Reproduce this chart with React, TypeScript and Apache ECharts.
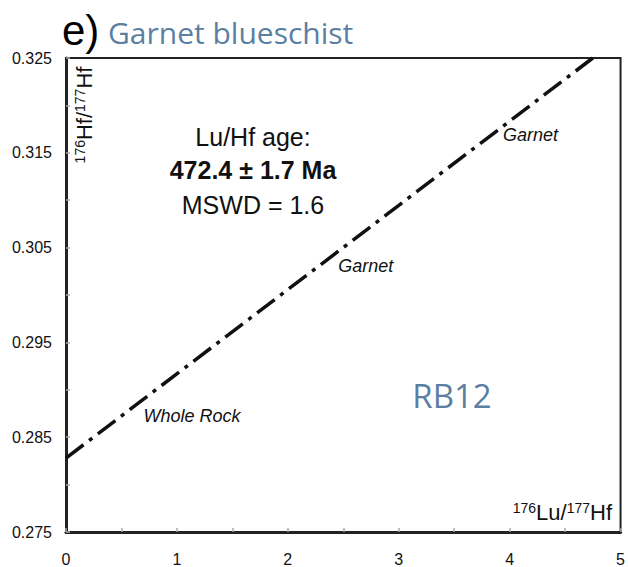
import React, { useEffect, useRef } from "react";
import * as echarts from "echarts";

const xTicks = [0, 1, 2, 3, 4, 5];
const yTickLabels = ["0.275", "0.285", "0.295", "0.305", "0.315", "0.325"];
const isochron = [
  [0, 0.2828],
  [4.75, 0.325],
];
const sampleNames = ["Whole Rock", "Garnet", "Garnet"];
const sampleLu = [0.65, 2.405, 3.89];
const sampleHf = [0.28858, 0.30417, 0.31737];
const labelOffsets = [
  [0, 13],
  [0, 11],
  [0, 5],
];
const ageLines = ["Lu/Hf age:", "472.4 ± 1.7 Ma", "MSWD = 1.6"];
const panelLetter = "e)";
const panelTitle = "Garnet blueschist";
const sampleId = "RB12";

const BLUE = "#5b7fa2";
const SANS = "'Liberation Sans', Arial, sans-serif";
const MYRIAD = "'Open Sans', 'Noto Sans', sans-serif";

export default function App() {
  const ref = useRef<HTMLDivElement>(null);
  useEffect(() => {
    document.body.style.margin = "0";
    if (!ref.current) return;
    const chart = echarts.init(ref.current, null, { renderer: "svg" });
    const option = {
      animation: false,
      backgroundColor: "#fff",
      grid: {
        left: 66,
        right: 7,
        top: 58,
        bottom: 34,
        show: true,
        borderColor: "#222",
        borderWidth: 2,
        backgroundColor: "transparent",
      },
      xAxis: {
        type: "value",
        min: xTicks[0],
        max: xTicks[xTicks.length - 1],
        interval: 1,
        axisLine: { show: true, onZero: false, lineStyle: { color: "#222", width: 3 } },
        axisTick: { show: true, inside: true, length: 4, lineStyle: { color: "#aaa", width: 1.5 } },
        minorTick: { show: true, splitNumber: 2, length: 4, lineStyle: { color: "#aaa", width: 1.5 } },
        splitLine: { show: false },
        axisLabel: {
          margin: 19,
          fontSize: 16,
          color: "#111",
          fontFamily: SANS,
          formatter: (v: number) => String(Math.round(v)),
        },
      },
      yAxis: {
        type: "value",
        min: 0.275,
        max: 0.325,
        interval: 0.01,
        axisLine: { show: true, onZero: false, lineStyle: { color: "#222", width: 3 } },
        axisTick: { show: true, inside: true, length: 4, lineStyle: { color: "#aaa", width: 1.5 } },
        minorTick: { show: true, splitNumber: 2, length: 4, lineStyle: { color: "#aaa", width: 1.5 } },
        splitLine: { show: false },
        axisLabel: {
          margin: 14,
          fontSize: 16,
          color: "#111",
          fontFamily: SANS,
          formatter: (v: number) => {
            const s = v.toFixed(3);
            return yTickLabels.includes(s) ? s : "";
          },
        },
      },
      series: [
        {
          type: "line",
          data: isochron,
          symbol: "none",
          clip: true,
          lineStyle: { color: "#111", width: 3.5, type: [22, 7, 4, 7] },
          z: 3,
        },
        {
          type: "scatter",
          symbolSize: 1,
          itemStyle: { color: "#111", opacity: 1 },
          data: sampleNames.map((n, i) => ({
            value: [sampleLu[i], sampleHf[i]],
            name: n,
            label: { offset: labelOffsets[i] },
          })),
          label: {
            show: true,
            position: "right",
            distance: 5,
            formatter: (p: any) => p.name,
            fontSize: 18,
            fontStyle: "italic",
            fontFamily: SANS,
            color: "#111",
            opacity: 1,
          },
          z: 4,
        },
      ],
      graphic: [
        {
          type: "text",
          left: 62,
          top: 9,
          style: { text: panelLetter, fontSize: 42, fontFamily: SANS, fill: "#000" },
        },
        {
          type: "text",
          x: 108,
          y: 32,
          style: {
            text: panelTitle,
            fontSize: 30,
            fontFamily: MYRIAD,
            fill: BLUE,
            verticalAlign: "middle",
          },
        },
        ...ageLines.map((t, i) => ({
          type: "text",
          x: 253,
          y: [137, 170, 205][i],
          style: {
            text: t,
            fontSize: 25,
            fontWeight: i === 1 ? "bold" : "normal",
            fontFamily: SANS,
            fill: "#111",
            align: "center",
            verticalAlign: "middle",
          },
        })),
        {
          type: "text",
          x: 452,
          y: 395,
          style: {
            text: sampleId,
            fontSize: 33,
            fontFamily: MYRIAD,
            fill: BLUE,
            align: "center",
            verticalAlign: "middle",
          },
        },
        {
          type: "text",
          x: 84,
          y: 115,
          rotation: Math.PI / 2,
          style: {
            text: "{s|176}{m|Hf/}{s|177}{m|Hf}",
            align: "center",
            verticalAlign: "middle",
            fill: "#111",
            rich: {
              s: { fontSize: 14, fontFamily: SANS, fill: "#111", padding: [0, 0, 8, 0] },
              m: { fontSize: 22, fontFamily: SANS, fill: "#111" },
            },
          },
        },
        {
          type: "text",
          x: 612,
          y: 512,
          style: {
            text: "{s|176}{m|Lu/}{s|177}{m|Hf}",
            align: "right",
            verticalAlign: "middle",
            fill: "#111",
            rich: {
              s: { fontSize: 14, fontFamily: SANS, fill: "#111", padding: [0, 0, 8, 0] },
              m: { fontSize: 22, fontFamily: SANS, fill: "#111" },
            },
          },
        },
      ],
    };
    chart.setOption(option as any);
    return () => chart.dispose();
  }, []);
  return (
    <div
      ref={ref}
      style={{ width: 628, height: 567, position: "absolute", left: 0, top: 0 }}
    />
  );
}
